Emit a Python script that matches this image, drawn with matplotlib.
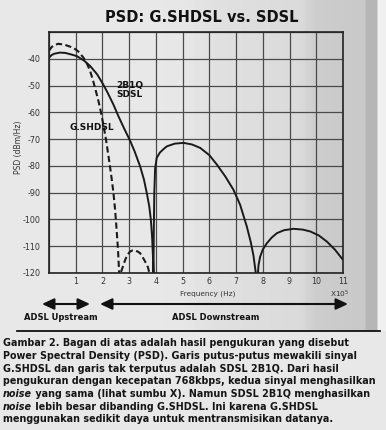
import matplotlib
matplotlib.use("Agg")
import matplotlib.pyplot as plt
import numpy as np

# SDSL 2B1Q (solid line)
sdsl_f = [0.0, 0.1, 0.2, 0.41, 0.6, 0.8, 1.04, 1.3, 1.54, 1.8, 2.03, 2.2, 2.41, 2.6, 2.8,
          3.03, 3.2, 3.41, 3.55, 3.66, 3.75, 3.81, 3.86, 3.89, 3.91,
          3.92, 3.94, 3.97, 4.03, 4.15, 4.3, 4.41, 4.7, 5.03, 5.35, 5.66, 6.0, 6.28, 6.6,
          6.9, 7.15, 7.4, 7.55, 7.65, 7.75,
          7.81, 7.84, 7.9, 8.0, 8.15, 8.33, 8.53, 8.8, 9.15, 9.5, 9.78, 10.1, 10.4, 10.7, 11.0]
sdsl_psd = [-39.6, -38.6, -38.1, -37.7, -37.8, -38.3, -39.0, -40.6, -42.7, -45.8, -49.6, -52.8, -57.1, -61.5, -65.8,
            -70.5, -74.5, -80.2, -85.0, -90.2, -95.0, -100.0, -107.0, -114.0, -121.0,
            -105.0, -90.0, -81.0, -77.0, -75.0, -73.6, -72.7, -71.7, -71.4, -72.0, -73.3, -76.0, -79.5, -84.0,
            -88.9, -94.5, -102.6, -108.5, -113.5, -121.0,
            -121.0, -117.0, -113.9, -111.2, -108.9, -106.8, -105.1, -104.0, -103.5, -103.8, -104.5, -106.0, -108.3, -111.3, -115.1]

# G.SHDSL (dashed line)
shdsl_f = [0.0, 0.1, 0.2, 0.35, 0.6, 0.91, 1.1, 1.29, 1.42, 1.54, 1.63, 1.72, 1.83, 1.91, 2.0,
           2.13, 2.28, 2.35, 2.41, 2.47, 2.53, 2.58, 2.63,
           2.68, 2.72, 2.85, 2.93, 3.03, 3.12, 3.22, 3.32, 3.41, 3.5, 3.6, 3.7, 3.78]
shdsl_psd = [-37.0, -35.6, -34.9, -34.4, -34.8, -35.9, -37.3, -39.6, -41.8, -44.6, -47.5, -50.8, -55.0, -58.3, -62.8,
             -70.0, -80.0, -85.2, -90.0, -96.0, -103.9, -111.0, -121.0,
             -120.0, -118.9, -115.1, -113.3, -112.0, -111.6, -111.6, -112.0, -112.6, -114.0, -115.8, -117.8, -121.0]

x_ticks = list(range(1, 12))
y_ticks = [-40, -50, -60, -70, -80, -90, -100, -110, -120]

caption = [
    "Gambar 2. Bagan di atas adalah hasil pengukuran yang disebut",
    "Power Spectral Density (PSD). Garis putus-putus mewakili sinyal",
    "G.SHDSL dan garis tak terputus adalah SDSL 2B1Q. Dari hasil",
    "pengukuran dengan kecepatan 768kbps, kedua sinyal menghasilkan",
    ("noise", " yang sama (lihat sumbu X). Namun SDSL 2B1Q menghasilkan"),
    ("noise", " lebih besar dibanding G.SHDSL. Ini karena G.SHDSL"),
    "menggunakan sedikit daya untuk mentransmisikan datanya.",
]

W, H = 386, 430
def fx(px):
    return px / W
def fy(py):
    return 1 - py / H

fig = plt.figure(figsize=(3.86, 4.30), dpi=100, facecolor="#e8e8e8")

# scanned grey background bands
bg = fig.add_axes([0, fy(331), 1, 331 / H], zorder=-10)
xs = np.arange(W)
shade = np.interp(xs, [0, 180, 215, 300, 315, 364, 366, 376, 378, 386],
                  [232, 231, 224, 218, 205, 200, 182, 182, 240, 240])
bg.imshow(np.tile(shade, (10, 1)), cmap="gray", vmin=0, vmax=255, aspect="auto",
          extent=[0, W, 0, 1])
bg.axis("off")

ax = fig.add_axes([fx(49), fy(273), 294 / W, 241 / H])
ax.patch.set_alpha(0)
ax.plot(sdsl_f, sdsl_psd, color="#1a1a1a", lw=1.4, solid_capstyle="butt")
ax.plot(shdsl_f, shdsl_psd, color="#1a1a1a", lw=1.5, linestyle=(0, (3, 1.6)))
ax.set_xlim(0, 11)
ax.set_ylim(-120, -30)
ax.set_xticks(range(0, 12))
ax.set_xticklabels([""] + [str(t) for t in x_ticks])
ax.set_yticks([-30] + y_ticks)
ax.set_yticklabels([""] + [str(t) for t in y_ticks])
ax.tick_params(length=0, labelsize=5.8, colors="#333333")
ax.tick_params(axis="y", pad=6)
ax.tick_params(axis="x", pad=3)
ax.grid(True, color="#4a4a4a", lw=0.9)
for s in ax.spines.values():
    s.set_color("#222222")
    s.set_linewidth(1.2)

ax.text(3.03, -51.5, "2B1Q\nSDSL", fontsize=6.5, fontweight="bold", ha="center", va="center",
        linespacing=1.0, color="#111111")
ax.text(1.6, -65.7, "G.SHDSL", fontsize=6.5, fontweight="bold", ha="center", va="center",
        color="#111111")

fig.text(fx(202), fy(18), "PSD: G.SHDSL vs. SDSL", fontsize=10.5, fontweight="bold",
         ha="center", va="center", color="#111111")
fig.text(fx(18), fy(147), "PSD (dBm/Hz)", fontsize=5.5, rotation=90, ha="center", va="center",
         color="#333333")
fig.text(fx(208), fy(294), "Frequency (Hz)", fontsize=5.3, ha="center", va="center", color="#333333")
fig.text(fx(340), fy(294), "X10$^5$", fontsize=5.3, ha="center", va="center", color="#333333")

arrow = dict(arrowstyle="<|-|>,head_length=0.6,head_width=0.28", color="#111111", lw=1.5,
             mutation_scale=12, shrinkA=0, shrinkB=0)
ax.annotate("", xy=(fx(90), fy(304)), xytext=(fx(42), fy(304)), xycoords="figure fraction",
            textcoords="figure fraction", arrowprops=arrow, annotation_clip=False)
ax.annotate("", xy=(fx(348), fy(304)), xytext=(fx(100), fy(304)), xycoords="figure fraction",
            textcoords="figure fraction", arrowprops=arrow, annotation_clip=False)
fig.text(fx(61), fy(317), "ADSL Upstream", fontsize=6, fontweight="bold", ha="center", va="center",
         color="#111111")
fig.text(fx(216), fy(317), "ADSL Downstream", fontsize=6, fontweight="bold", ha="center", va="center",
         color="#111111")

fig.add_artist(plt.Line2D([fx(17), fx(380)], [fy(331), fy(331)], color="#111111", lw=1.3))

renderer = fig.canvas.get_renderer()
for i, line in enumerate(caption):
    y = fy(343.3 + i * 12.67)
    if isinstance(line, tuple):
        t = fig.text(fx(3), y, line[0], fontsize=6.9, fontweight="bold", style="italic",
                     va="center", color="#151515")
        bb = t.get_window_extent(renderer)
        fig.text(bb.x1 / fig.dpi / fig.get_figwidth(), y, line[1], fontsize=6.9, fontweight="bold",
                 va="center", color="#151515")
    else:
        fig.text(fx(3), y, line, fontsize=6.9, fontweight="bold", va="center", color="#151515")

fig.savefig("out.png", dpi=100, facecolor=fig.get_facecolor())
